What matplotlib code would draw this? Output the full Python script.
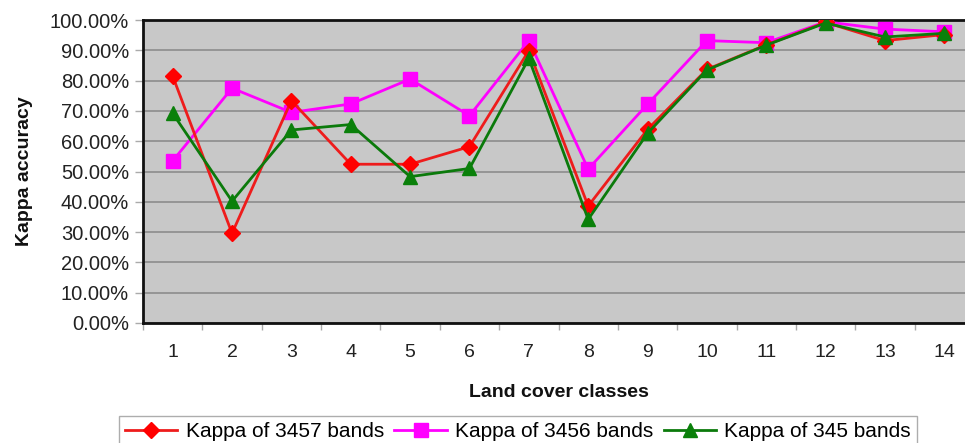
import matplotlib
matplotlib.use("Agg")
import matplotlib.pyplot as plt
from matplotlib.ticker import FixedLocator, PercentFormatter

plt.rcParams['font.family'] = ['Liberation Sans', 'DejaVu Sans']

classes = list(range(1, 15))
kappa_3457 = [81.5, 29.6, 73.4, 52.4, 52.4, 58.2, 89.9, 38.6, 63.9, 83.7, 91.8, 99.2, 93.2, 95.2]
kappa_3456 = [53.5, 77.5, 69.5, 72.3, 80.5, 68.4, 93.2, 50.8, 72.2, 93.2, 92.5, 99.4, 97.0, 96.1]
kappa_345 = [69.2, 40.2, 63.7, 65.5, 48.3, 51.0, 87.3, 34.2, 62.6, 83.5, 91.7, 99.0, 94.4, 95.6]
y_ticks = [0, 10, 20, 30, 40, 50, 60, 70, 80, 90, 100]

W, H = 965, 443
fig = plt.figure(figsize=(W / 100, H / 100), dpi=100)
left, right, top, bottom = 143, 974, 20, 323
ax = fig.add_axes([left / W, 1 - bottom / H, (right - left) / W, (bottom - top) / H])
ax.set_facecolor('#c8c8c8')

ax.set_xlim(0.5, 14.5)
ax.set_ylim(0, 100)
ax.yaxis.set_major_locator(FixedLocator(y_ticks))
ax.yaxis.set_major_formatter(PercentFormatter(decimals=2))
ax.set_xticks(classes)
ax.set_xticks([c + 0.5 for c in [0] + classes], minor=True)
ax.tick_params(axis='x', which='major', length=0, pad=15, labelsize=14, labelcolor='#222222')
ax.tick_params(axis='x', which='minor', length=5, color='#aaaaaa', width=1)
ax.tick_params(axis='y', length=6, color='#aaaaaa', width=1, pad=4, labelsize=14.5, labelcolor='#222222')

ax.grid(axis='y', color='#8c8c8c', linewidth=1.2)
ax.set_axisbelow(True)
for s in ax.spines.values():
    s.set_color('#111111')
    s.set_linewidth(2)

ax.plot(classes, kappa_3457, color='#ee1c1c', lw=2, marker='D', ms=8,
        mfc='#ff0000', mec='#ff0000', label='Kappa of 3457 bands', zorder=4)
ax.plot(classes, kappa_3456, color='#ff00ff', lw=2, marker='s', ms=10,
        mfc='#ff00ff', mec='#ff00ff', label='Kappa of 3456 bands', zorder=3)
ax.plot(classes, kappa_345, color='#0b7a0b', lw=2, marker='^', ms=10,
        mfc='#0a800a', mec='#0a800a', label='Kappa of 345 bands', zorder=5)

ax.set_ylabel('Kappa accuracy', fontsize=14, fontweight='bold', color='#111111')
ax.yaxis.set_label_coords(-(143 - 33) / (right - left), 0.5)
ax.set_xlabel('Land cover classes', fontsize=14, fontweight='bold', labelpad=17, color='#111111')

leg = fig.legend(loc='upper center', bbox_to_anchor=(518 / W, 1 - 416 / H), ncol=3,
                 fontsize=15, frameon=True, fancybox=False, edgecolor='#999999',
                 handlelength=2.5, handletextpad=0.4, columnspacing=0.5,
                 borderpad=0.3, borderaxespad=0)
leg.get_frame().set_linewidth(1)

fig.savefig('out.png', dpi=100)
